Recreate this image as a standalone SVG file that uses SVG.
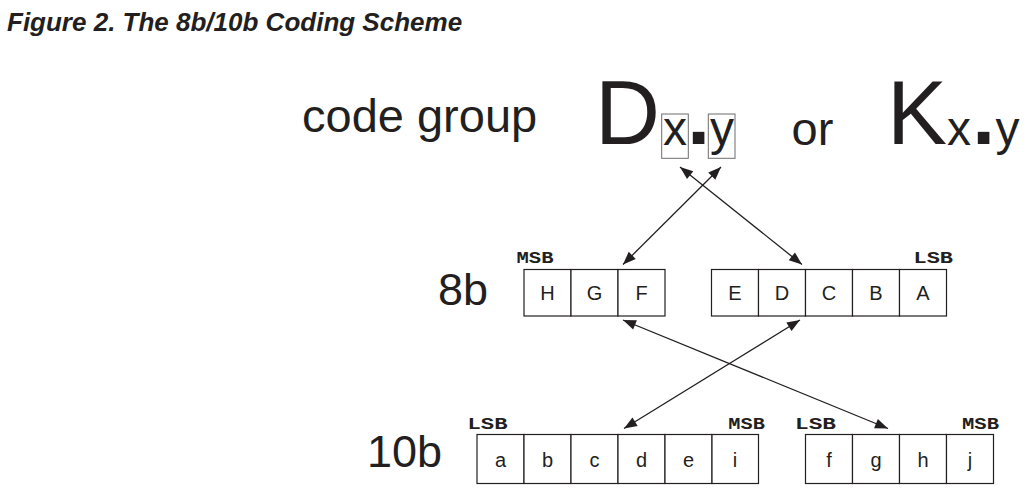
<svg xmlns="http://www.w3.org/2000/svg" width="1035" height="491" viewBox="0 0 1035 491">
<style>
text{font-family:"Liberation Sans",Arial,sans-serif;fill:#231f20}
.title{font-size:26px;font-weight:bold;font-style:italic}
.big{font-size:47px}
.huge{font-size:90px}
.sub{font-size:48px}
.dot{font-size:82px;font-weight:bold}
.cell{fill:#fff;stroke:#231f20;stroke-width:1.2}
.vbox{fill:none;stroke:#6d6d6d;stroke-width:1}
.lt{font-size:20px;text-anchor:middle}
.bit{font-family:"Liberation Mono","Courier New",monospace;font-size:17px;font-weight:bold}
.conn line{stroke:#231f20;stroke-width:1.3;fill:none}
</style>
<defs>
<marker id="ah" viewBox="-14 -6 15 12" refX="0" refY="0" markerWidth="15" markerHeight="12" markerUnits="userSpaceOnUse" orient="auto-start-reverse">
<path d="M0,0 L-13,-5 L-13,5 z" fill="#231f20"/>
</marker>
</defs>
<rect width="1035" height="491" fill="#fff"/>
<g id="title"><text class="title" x="7" y="31">Figure 2. The 8b/10b Coding Scheme</text></g>
<g id="code-group-label"><text class="big" x="302" y="132">code group</text></g>
<g id="dxy">
<rect class="vbox" x="661.7" y="114" width="26.6" height="44.3"/>
<rect class="vbox" x="708.3" y="114" width="26.7" height="44.3"/>
<text text-anchor="middle"><tspan class="huge" x="627.5" y="144">D</tspan><tspan class="sub" x="675" y="145">x</tspan><tspan class="dot" x="698.7" y="144">.</tspan><tspan class="sub" x="722" y="145">y</tspan></text>
</g>
<g id="or"><text class="big" x="791.5" y="145">or</text></g>
<g id="kxy">
<text text-anchor="middle"><tspan class="huge" x="917" y="144">K</tspan><tspan class="sub" x="959" y="145">x</tspan><tspan class="dot" x="983.7" y="144">.</tspan><tspan class="sub" x="1007.5" y="145">y</tspan></text>
</g>
<g id="label-8b"><text class="big" x="438" y="305" style="font-size:45px">8b</text></g>
<g id="label-10b"><text class="big" x="367" y="467" style="font-size:45px">10b</text></g>
<g id="8b-hgf">
<text class="bit" x="516.5" y="263" textLength="37" lengthAdjust="spacingAndGlyphs">MSB</text>
<rect class="cell" x="524" y="269.5" width="47" height="46.5"/>
<rect class="cell" x="571" y="269.5" width="47" height="46.5"/>
<rect class="cell" x="618" y="269.5" width="47" height="46.5"/>
<text class="lt" x="547.5" y="300">H</text>
<text class="lt" x="594.5" y="300">G</text>
<text class="lt" x="641.5" y="300">F</text>
</g>
<g id="8b-edcba">
<text class="bit" x="913.5" y="263" textLength="39.5" lengthAdjust="spacingAndGlyphs">LSB</text>
<rect class="cell" x="711.5" y="269.5" width="47" height="46.5"/>
<rect class="cell" x="758.5" y="269.5" width="47" height="46.5"/>
<rect class="cell" x="805.5" y="269.5" width="47" height="46.5"/>
<rect class="cell" x="852.5" y="269.5" width="47" height="46.5"/>
<rect class="cell" x="899.5" y="269.5" width="47" height="46.5"/>
<text class="lt" x="735" y="300">E</text>
<text class="lt" x="782" y="300">D</text>
<text class="lt" x="829" y="300">C</text>
<text class="lt" x="876" y="300">B</text>
<text class="lt" x="923" y="300">A</text>
</g>
<g id="10b-abcdei">
<text class="bit" x="467.5" y="428.5" textLength="40" lengthAdjust="spacingAndGlyphs">LSB</text>
<text class="bit" x="728.3" y="428.5" textLength="36.5" lengthAdjust="spacingAndGlyphs">MSB</text>
<rect class="cell" x="477" y="434.5" width="47" height="49"/>
<rect class="cell" x="524" y="434.5" width="47" height="49"/>
<rect class="cell" x="571" y="434.5" width="47" height="49"/>
<rect class="cell" x="618" y="434.5" width="47" height="49"/>
<rect class="cell" x="665" y="434.5" width="47" height="49"/>
<rect class="cell" x="712" y="434.5" width="46.5" height="49"/>
<text class="lt" x="500.5" y="467">a</text>
<text class="lt" x="547.5" y="467">b</text>
<text class="lt" x="594.5" y="467">c</text>
<text class="lt" x="641.5" y="467">d</text>
<text class="lt" x="688.5" y="467">e</text>
<text class="lt" x="735" y="467">i</text>
</g>
<g id="10b-fghj">
<text class="bit" x="795" y="428.5" textLength="41" lengthAdjust="spacingAndGlyphs">LSB</text>
<text class="bit" x="962" y="428.5" textLength="37" lengthAdjust="spacingAndGlyphs">MSB</text>
<rect class="cell" x="805.5" y="434.5" width="47" height="49"/>
<rect class="cell" x="852.5" y="434.5" width="47" height="49"/>
<rect class="cell" x="899.5" y="434.5" width="47" height="49"/>
<rect class="cell" x="946.5" y="434.5" width="47" height="49"/>
<text class="lt" x="829" y="467">f</text>
<text class="lt" x="876" y="467">g</text>
<text class="lt" x="923" y="467">h</text>
<text class="lt" x="970" y="467">j</text>
</g>
<g id="connectors" class="conn">
<line x1="680" y1="167" x2="802" y2="264.5" marker-start="url(#ah)" marker-end="url(#ah)"/>
<line x1="721" y1="167" x2="623" y2="264.5" marker-start="url(#ah)" marker-end="url(#ah)"/>
<line x1="623" y1="320" x2="888" y2="428.5" marker-start="url(#ah)" marker-end="url(#ah)"/>
<line x1="800" y1="320" x2="624" y2="428.5" marker-start="url(#ah)" marker-end="url(#ah)"/>
</g>
</svg>
